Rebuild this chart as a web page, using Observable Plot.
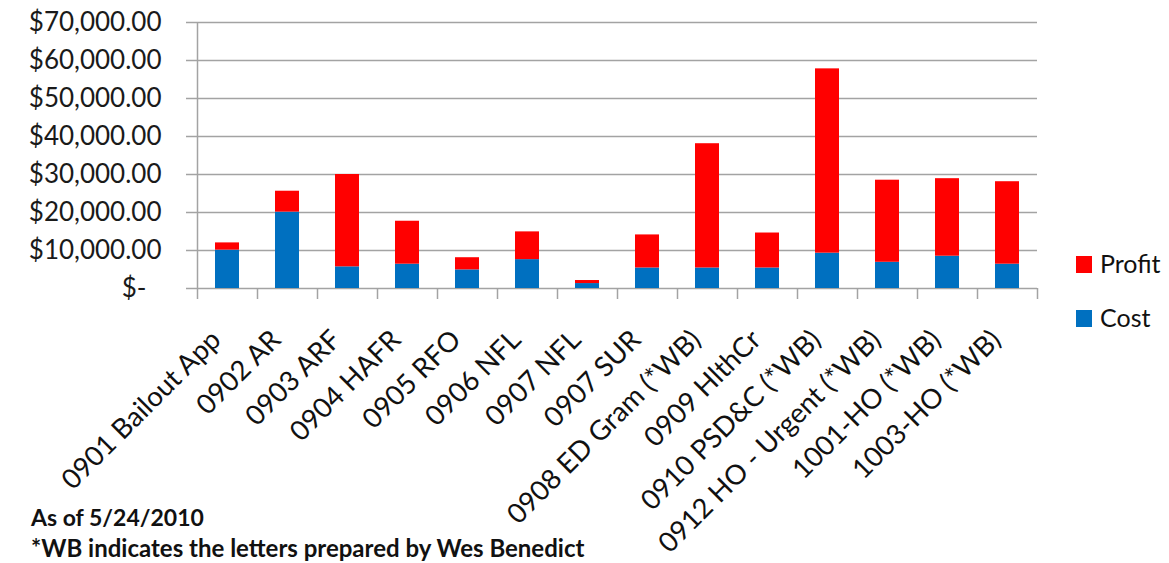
<!DOCTYPE html>
<html>
<head>
<meta charset="utf-8">
<script src="https://cdn.jsdelivr.net/npm/d3@7"></script>
<script src="https://cdn.jsdelivr.net/npm/@observablehq/plot@0.6"></script>
<style>
  html, body { margin: 0; padding: 0; background: #fff; }
  #wrap { position: relative; width: 1169px; height: 563px; font-family: Lato, "Open Sans", sans-serif; }
  #chart { position: absolute; left: 0; top: 0; }
  .legend { position: absolute; left: 1076px; font-size: 25px; color: #111; line-height: 1; }
  .legend .sw { display: inline-block; width: 16px; height: 17px; vertical-align: middle; margin-right: 8px; position: relative; top: -2px; }
  .note { position: absolute; left: 31px; font-weight: bold; color: #111; white-space: nowrap; }
</style>
</head>
<body>
<div id="wrap">
  <div id="chart"></div>
  <div id="legend"></div>
  <div class="note" style="top:503px; font-size:23px">As of 5/24/2010</div>
  <div class="note" style="top:533px; font-size:24px">*WB indicates the letters prepared by Wes Benedict</div>
</div>
<script>
const categories = [
  "0901 Bailout App", "0902 AR", "0903 ARF", "0904 HAFR", "0905 RFO", "0906 NFL",
  "0907 NFL", "0907 SUR", "0908 ED Gram (*WB)", "0909 HlthCr", "0910 PSD&C (*WB)",
  "0912 HO - Urgent (*WB)", "1001-HO (*WB)", "1003-HO (*WB)"
];
const cost   = [10100, 20100, 5700, 6400, 4900, 7600, 1300, 5400, 5400, 5400, 9300, 6900, 8500, 6400];
const profit = [1900, 5500, 24300, 11300, 3200, 7300, 800, 8700, 32700, 9200, 48500, 21600, 20400, 21700];
const seriesNames = ["Cost", "Profit"];
const seriesColors = ["#0070c0", "#ff0000"];
const yTicks = [0, 10000, 20000, 30000, 40000, 50000, 60000, 70000];

const data = categories.flatMap((c, i) => [
  {category: c, series: "Cost", value: cost[i]},
  {category: c, series: "Profit", value: profit[i]}
]);

const money = d3.format("$,.2f");
const fmt = d => d === 0 ? "$-\u2007" : money(d);
const grid = "#a3a3a3";
const last = categories[categories.length - 1];

const chart = Plot.plot({
  width: 1169,
  height: 563,
  marginLeft: 197,
  marginRight: 132,
  marginTop: 22,
  marginBottom: 275,
  x: {domain: categories, paddingInner: 0.6, paddingOuter: 0.3, axis: null},
  y: {domain: [0, 70000], axis: null},
  color: {domain: seriesNames, range: seriesColors},
  style: {fontFamily: "Lato, 'Open Sans', sans-serif", background: "white", overflow: "visible"},
  marks: [
    Plot.ruleY(yTicks, {y: d => d, stroke: grid, strokeWidth: 1.5, insetLeft: -11}),
    Plot.ruleX([categories[0]], {x: d => d, dx: -30, stroke: grid, strokeWidth: 1.5, insetBottom: -11}),
    Plot.ruleX(categories.slice(1), {x: d => d, dx: -30, stroke: grid, strokeWidth: 1.5, insetTop: 266, insetBottom: -11}),
    Plot.ruleX([last], {x: d => d, dx: 30, stroke: grid, strokeWidth: 1.5, insetTop: 266, insetBottom: -11}),
    Plot.barY(data, Plot.stackY({x: "category", y: "value", fill: "series", order: seriesNames})),
    Plot.text(yTicks, {y: d => d, text: fmt, frameAnchor: "left", dx: -36, textAnchor: "end", fontSize: 26, fill: "#1a1a1a"}),
    Plot.text(categories, {x: d => d, text: d => d, frameAnchor: "bottom", dx: -5, dy: 53, rotate: -45, textAnchor: "end", fontSize: 27.5, fill: "#111"})
  ]
});
document.getElementById("chart").appendChild(chart);

const legend = document.getElementById("legend");
const legendItems = [{name: "Profit", top: 251}, {name: "Cost", top: 305}];
legendItems.forEach(item => {
  const div = document.createElement("div");
  div.className = "legend";
  div.style.top = item.top + "px";
  const sw = document.createElement("span");
  sw.className = "sw";
  sw.style.background = seriesColors[seriesNames.indexOf(item.name)];
  div.appendChild(sw);
  div.appendChild(document.createTextNode(item.name));
  legend.appendChild(div);
});
</script>
</body>
</html>
